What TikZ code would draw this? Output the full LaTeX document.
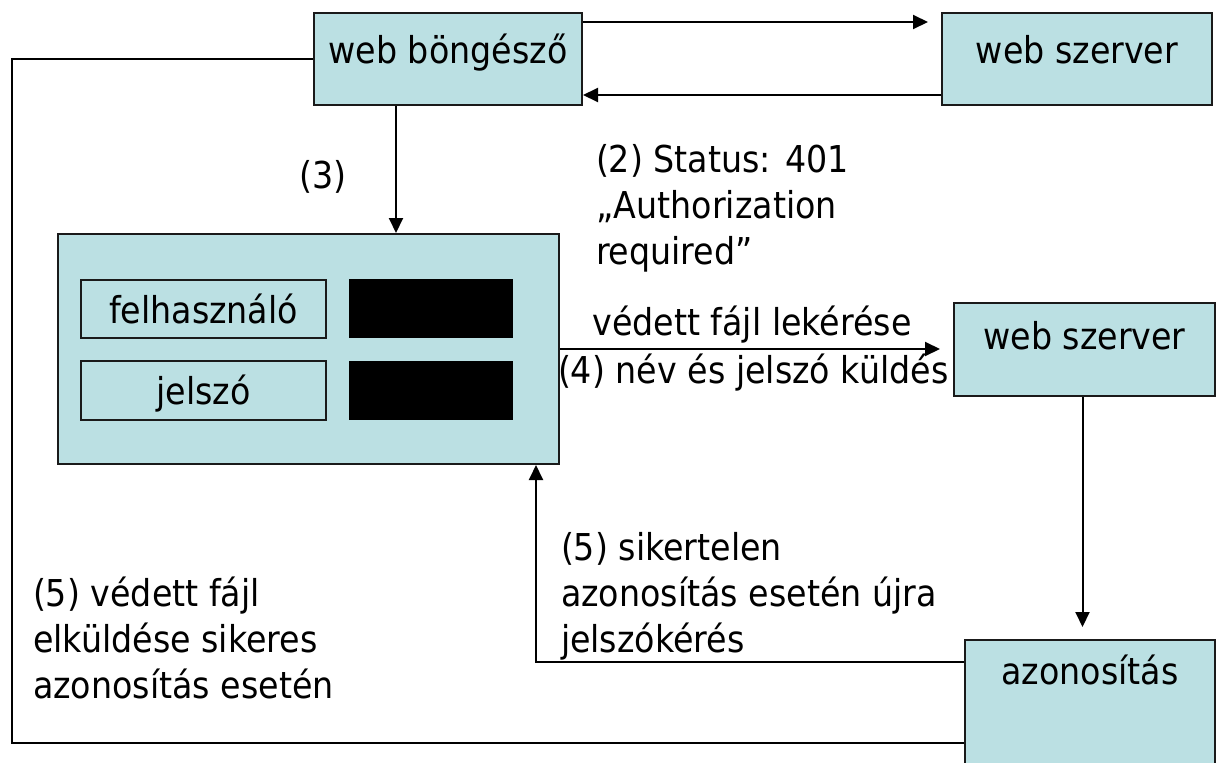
\documentclass[tikz,border=0pt]{standalone}
\usepackage{fontspec}
\setmainfont{DejaVu Sans}[FakeStretch=0.9]
\usepackage{tikz}
\usetikzlibrary{arrows.meta}
\definecolor{AuthTeal}{HTML}{BBE0E3}
\definecolor{AuthLine}{HTML}{1A1A1A}

\begin{document}
\begin{tikzpicture}[x=1pt,y=-1pt,line width=2pt,font=\fontsize{37}{46}\selectfont,
  box/.style={draw=AuthLine,fill=AuthTeal,inner sep=0pt,anchor=north west},
  field/.style={fill=black,inner sep=0pt,anchor=north west,minimum width=164pt,minimum height=59pt},
  txt/.style={inner sep=0pt,anchor=north west,align=left},
  arr/.style={-{Triangle[length=15pt,width=14pt]}}]
\useasboundingbox (0,0) rectangle (1216,763);
\clip (0,0) rectangle (1216,763);
% boxes
\node[box,minimum width=268pt,text height=50pt,text depth=42pt] (browser) at (313,12) {web böngésző};
\node[box,minimum width=270pt,text height=50pt,text depth=42pt] (server1) at (941,12) {web szerver};
\node[box,minimum width=501pt,minimum height=230pt] (bigbox) at (57,233) {};
\node[box,minimum width=245pt,text height=43pt,text depth=15pt] (userbox) at (80,279) {felhasználó};
\node[box,minimum width=245pt,text height=43pt,text depth=16pt] (passbox) at (80,360) {jelszó};
\node[field] (userfield) at (348,278) {};
\node[field] (passfield) at (348,360) {};
\node[box,minimum width=261pt,text height=46pt,text depth=47pt] (server2) at (953,302) {web szerver};
\node[box,minimum width=250pt,text height=44pt,text depth=97pt] (auth) at (964,639) {azonosítás};
% labels
\node[anchor=base] (step3) at (323,188) {(3)};
\node[txt] (status) at (595,143) {(2) Status: 401\\„Authorization\\required”};
\node[anchor=base] (reqlabel) at (752,335) {védett fájl lekérése};
\node[anchor=base west,inner sep=0pt] (sendlabel) at (557,383) {(4) név és jelszó küldés};
\node[txt] (faillabel) at (560,531) {(5) sikertelen\\azonosítás esetén újra\\jelszókérés};
\node[txt] (oklabel) at (32,576) {(5) védett fájl\\elküldése sikeres\\azonosítás esetén};
% connectors
\coordinate (lcorner) at (12,743);
\draw[arr,shorten >=13pt] ([yshift=-10pt]browser.north east) -- ([yshift=-10pt]server1.north west);
\draw[arr] ([yshift=11pt]server1.south west) -- ([yshift=11pt]browser.south east);
\draw (browser.west) -| (lcorner) -- (auth.west |- lcorner);
\draw[arr] ([xshift=-52pt]browser.south) -- ([xshift=-52pt]browser.south |- bigbox.north);
\draw[arr,shorten >=13pt] (bigbox.east) -- (server2.west |- bigbox.east);
\draw[arr,shorten >=12pt] ([xshift=-2pt]server2.south) -- ([xshift=-2pt]server2.south |- auth.north);
\draw[arr] ([yshift=-23pt]auth.north west) -| ([xshift=-24pt]bigbox.south east);
\end{tikzpicture}
\end{document}
